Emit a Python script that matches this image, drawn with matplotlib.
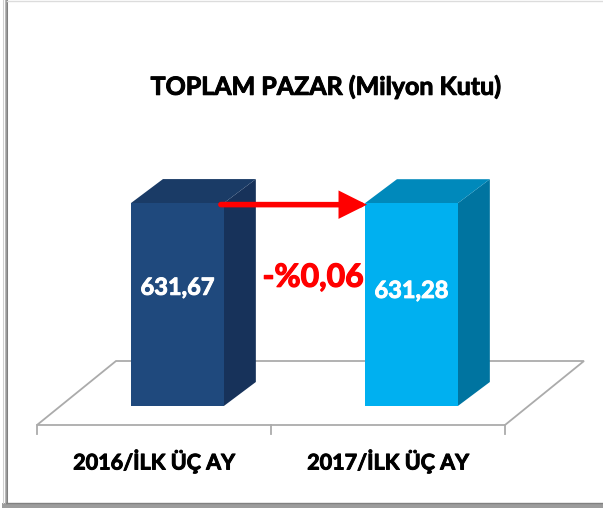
import numpy as np
import matplotlib
matplotlib.use("Agg")
import matplotlib.pyplot as plt
import matplotlib.patheffects as pe
from matplotlib.patches import Polygon, Rectangle
from matplotlib.lines import Line2D

# ---- data ----
categories = ["2016/İLK ÜÇ AY", "2017/İLK ÜÇ AY"]
values = [631.67, 631.28]
value_labels = ["631,67", "631,28"]
change_label = "-%0,06"
title = "TOPLAM PAZAR (Milyon Kutu)"

# ---- style ----
front_colors = ["#1F497D", "#00B0F0"]
side_colors = ["#17325A", "#0074A0"]
top_colors = ["#1A3B66", "#0089BB"]
floor_color = "#ABABAB"
DX, DY = 32, 24          # bar depth in pixels
FLX, FLY = 79, 64        # floor depth in pixels
FLOOR_DROP = 19          # floor front edge below bar bottom, pixels

plt.rcParams['font.family'] = ['Lato', 'DejaVu Sans']
plt.rcParams['font.weight'] = 'bold'


def heavy(color, w=0.7):
    # thicken the bold glyphs a little (reference font is heavier)
    return [pe.withStroke(linewidth=w, foreground=color)]


W, H = 603, 508
fig = plt.figure(figsize=(W / 100, H / 100), dpi=100)


def fx(px):
    return px / W


def fy(py):
    return 1 - py / H


ax = fig.add_axes([fx(37), fy(406), fx(505) - fx(37), fy(149) - fy(406)])
ax.set_xlim(-0.5, 1.5)
ax.set_ylim(0, 800)
ax.axis('off')

to_disp = ax.transData.transform
to_data = ax.transData.inverted().transform


def shift(pt, dx, dy):
    d = to_disp(pt)
    return to_data((d[0] + dx, d[1] + dy))


# floor (outline parallelogram)
fl = shift((-0.5, 0), 0, -FLOOR_DROP)
fr = shift((1.5, 0), 0, -FLOOR_DROP)
bl = shift(fl, FLX, FLY)
br = shift(fr, FLX, FLY)
floor = Polygon([fl, fr, br, bl], closed=True, facecolor="white",
                edgecolor=floor_color, lw=1.3, zorder=1, clip_on=False)
ax.add_patch(floor)
for xt in [-0.5, 0.5, 1.5]:
    p0 = shift((xt, 0), 0, -FLOOR_DROP)
    p1 = shift(p0, 0, -9)
    ax.add_line(Line2D([p0[0], p1[0]], [p0[1], p1[1]], color=floor_color,
                       lw=1.3, zorder=1, clip_on=False))

# bars
xpos = np.arange(len(values)) + 0.1
bars = ax.bar(xpos, values, width=0.397, color=front_colors, zorder=3,
              clip_on=False)
for b, sc, tc in zip(bars, side_colors, top_colors):
    x0, x1, h = b.get_x(), b.get_x() + b.get_width(), b.get_height()
    side = [(x1, 0), (x1, h), shift((x1, h), DX, DY), shift((x1, 0), DX, DY)]
    top = [(x0, h), (x1, h), shift((x1, h), DX, DY), shift((x0, h), DX, DY)]
    ax.add_patch(Polygon(side, closed=True, facecolor=sc, edgecolor='none',
                         zorder=2, clip_on=False))
    ax.add_patch(Polygon(top, closed=True, facecolor=tc, edgecolor='none',
                         zorder=2, clip_on=False))

# value labels
label_frac = [0.585, 0.57]
for xc, v, lab, fr_ in zip(xpos, values, value_labels, label_frac):
    ax.text(xc, v * fr_, lab, color="white", fontsize=17, fontweight="bold",
            ha="center", va="center", zorder=5, path_effects=heavy("white"))

# change arrow and label
b1, b2 = bars[0], bars[1]
start = shift((b1.get_x() + b1.get_width(), values[0]), -3, -1.5)
end = shift((b2.get_x(), values[1]), 2, -1.5)
ax.annotate("", xy=end, xytext=start,
            arrowprops=dict(arrowstyle="-|>,head_length=1.0,head_width=0.5",
                            color="#FF0000", lw=4, mutation_scale=14,
                            shrinkA=0, shrinkB=0, joinstyle="miter"),
            zorder=6, annotation_clip=False)
ax.text(b2.get_x() - 0.005, values[1] * 0.635, change_label, color="#FF0000",
        fontsize=23, fontweight="bold", ha="right", va="center", zorder=5,
        path_effects=heavy("#FF0000", 0.9))

# category labels
for i, c in enumerate(categories):
    px, py = shift((i, 0), 0, -(461 - 406))
    ax.text(px, py, c, fontsize=15.5, fontweight="bold",
            ha="center", va="center", zorder=5, path_effects=heavy("black"))

# title
fig.text(fx(326), fy(87), title, fontsize=18, fontweight="bold",
         ha="center", va="center", path_effects=heavy("black"))

# frame with shadow
for xpx, col in [(2.5, "#E6E6E6"), (3.5, "#D0D0D0"), (4.5, "#B8B8B8"),
                 (5.5, "#9A9A9A"), (6.5, "#808080")]:
    fig.add_artist(Line2D([fx(xpx), fx(xpx)], [fy(0), fy(503)], color=col,
                          lw=0.75, transform=fig.transFigure))
fig.add_artist(Rectangle((fx(2), 0), 1, fy(502.5), facecolor="#9C9C9C",
                         edgecolor="none", transform=fig.transFigure))
fig.add_artist(Line2D([fx(6), 1], [fy(503), fy(503)], color="#808080",
                      lw=1.0, transform=fig.transFigure))
fig.add_artist(Line2D([fx(7), 1], [fy(0.5), fy(0.5)], color="#DCDCDC",
                      lw=1.0, transform=fig.transFigure))

fig.savefig("out.png", dpi=100, facecolor="white")
